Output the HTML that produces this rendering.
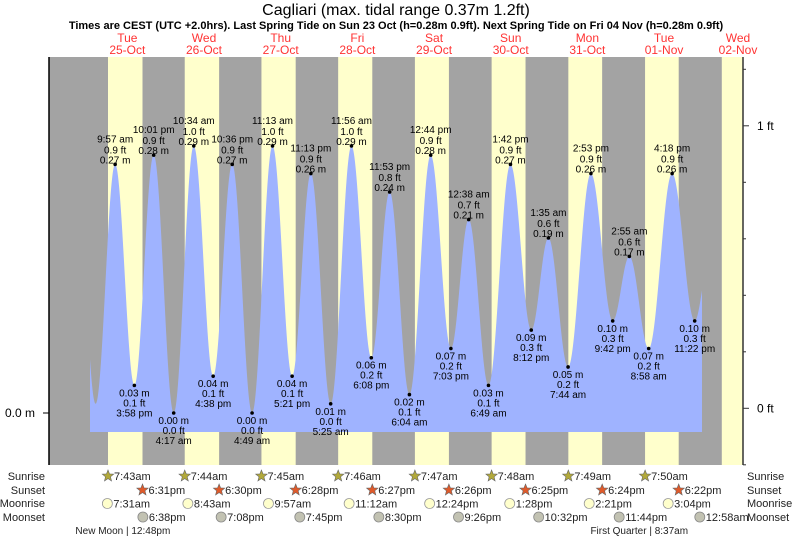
<!DOCTYPE html>
<html><head><meta charset="utf-8"><style>
html,body{margin:0;padding:0;background:#fff;width:793px;height:539px;overflow:hidden}
svg{display:block;font-family:"Liberation Sans",sans-serif}
</style></head><body>
<svg id="chart" width="793" height="539" viewBox="0 0 793 539">
<text x="396" y="15" text-anchor="middle" font-size="16" fill="#000">Cagliari (max. tidal range 0.37m 1.2ft)</text>
<text x="396" y="29" text-anchor="middle" font-size="11" font-weight="bold" fill="#000">Times are CEST (UTC +2.0hrs). Last Spring Tide on Sun 23 Oct (h=0.28m 0.9ft). Next Spring Tide on Fri 04 Nov (h=0.28m 0.9ft)</text>
<g id="bands"></g>
<g id="tide"></g>
<g id="labels"></g>
<g id="axes"></g>
<g id="astro"></g>
</svg>
<script>
const dayNames=["Tue","Wed","Thu","Fri","Sat","Sun","Mon","Tue","Wed"];
const dayDates=["25-Oct","26-Oct","27-Oct","28-Oct","29-Oct","30-Oct","31-Oct","01-Nov","02-Nov"];
const sunrise=["7:43am","7:44am","7:45am","7:46am","7:47am","7:48am","7:49am","7:50am","7:51am"];
const sunset=["6:31pm","6:30pm","6:28pm","6:27pm","6:26pm","6:25pm","6:24pm","6:22pm"];
const moonriseDay=[0,1,2,3,4,5,6,7];
const moonrise=["7:31am","8:43am","9:57am","11:12am","12:24pm","1:28pm","2:21pm","3:04pm"];
const moonsetDay=[0,1,2,3,4,5,6,8];
const moonset=["6:38pm","7:08pm","7:45pm","8:30pm","9:26pm","10:32pm","11:44pm","12:58am"];
const phaseDay=[0,7];
const phaseTime=["12:48pm","8:37am"];
const phaseName=["New Moon","First Quarter"];
const tideDay=[-1,0,0,0,0,1,1,1,1,2,2,2,2,3,3,3,3,4,4,4,5,5,5,5,6,6,6,6,7,7,7,7,8];
const tideTime=["9:40pm","3:50am","9:57am","3:58pm","10:01pm","4:17am","10:34am","4:38pm","10:36pm","4:49am","11:13am","5:21pm","11:13pm","5:25am","11:56am","6:08pm","11:53pm","6:04am","12:44pm","7:03pm","12:38am","6:49am","1:42pm","8:12pm","1:35am","7:44am","2:53pm","9:42pm","2:55am","8:58am","4:18pm","11:22pm","3:40am"];
const tideM=[0.27,0.01,0.27,0.03,0.28,0.00,0.29,0.04,0.27,0.00,0.29,0.04,0.26,0.01,0.29,0.06,0.24,0.02,0.28,0.07,0.21,0.03,0.27,0.09,0.19,0.05,0.26,0.10,0.17,0.07,0.26,0.10,0.16];
const tideFt=["","","0.9","0.1","0.9","0.0","1.0","0.1","0.9","0.0","1.0","0.1","0.9","0.0","1.0","0.2","0.8","0.1","0.9","0.2","0.7","0.1","0.9","0.3","0.6","0.2","0.9","0.3","0.6","0.2","0.9","0.3",""];
const tideShow=[0,0,1,1,1,1,1,1,1,1,1,1,1,1,1,1,1,1,1,1,1,1,1,1,1,1,1,1,1,1,1,1,0];
</script>
<script>
const NS="http://www.w3.org/2000/svg";
const X0=83.35, PXH=76.67/24, Y0=413, PXM=921;
const TOP=57, BOT=465, LEFT=49, RIGHT=743;
function hrs(t){const m=t.match(/(\d+):(\d+)(am|pm)/);let h=+m[1]%12;if(m[3]=="pm")h+=12;return h+ +m[2]/60;}
function xOf(d,t){return X0+d*76.67+hrs(t)*PXH;}
function yOf(v){return Y0-v*PXM;}
function mk(tag,attrs,parent,txt){const e=document.createElementNS(NS,tag);for(const k in attrs)e.setAttribute(k,attrs[k]);if(txt!==undefined)e.textContent=txt;parent.appendChild(e);return e;}
const bands=document.getElementById('bands'),tide=document.getElementById('tide'),labels=document.getElementById('labels'),axes=document.getElementById('axes'),astro=document.getElementById('astro');
let r=mk('rect',{x:LEFT,y:TOP,width:RIGHT-LEFT,height:BOT-TOP,fill:'#a3a3a3'},bands);


for(let i=0;i<dayNames.length;i++){
  const a=xOf(i,sunrise[i]);const b=i<sunset.length?xOf(i,sunset[i]):RIGHT;
  const rr=mk('rect',{x:a,y:TOP,width:Math.min(b,RIGHT)-a,height:BOT-TOP,fill:'#ffffcc'},bands);
  
  
  const cx=Math.min(X0+i*76.67+44,738);
  const t1=mk('text',{x:cx,y:42,'text-anchor':'middle','font-size':12,fill:'#ff3333'},bands,dayNames[i]);
  
  
  const t2=mk('text',{x:cx,y:54,'text-anchor':'middle','font-size':12,fill:'#ff3333'},bands,dayDates[i]);
  
  
}
const ex=tideM.map((v,i)=>({x:xOf(tideDay[i],tideTime[i]),v}));
function val(x){for(let i=0;i<ex.length-1;i++){if(x>=ex[i].x&&x<=ex[i+1].x){const f=(x-ex[i].x)/(ex[i+1].x-ex[i].x);return ex[i].v+(ex[i+1].v-ex[i].v)*(1-Math.cos(Math.PI*f))/2;}}return ex[ex.length-1].v;}
const xs=90,xe=702;let d=`M${xs},432`;
for(let x=xs;x<=xe;x+=0.5)d+=` L${x},${yOf(val(x)).toFixed(1)}`;
d+=` L${xe},432 Z`;
const p=mk('path',{d,fill:'#9fb3ff'},tide);


for(let i=0;i<ex.length;i++){if(!tideShow[i])continue;
  const x=ex[i].x,y=yOf(ex[i].v);const high=(i>0&&ex[i].v>ex[i-1].v);
  const c=mk('circle',{cx:x,cy:y,r:1.8,fill:'#000'},labels);
  
  
  const tt=tideTime[i].replace(/(am|pm)/,' $1');
  const lines=high?[[tt,-22],[tideFt[i]+' ft',-11],[tideM[i].toFixed(2)+' m',-1]]:[[tideM[i].toFixed(2)+' m',11],[tideFt[i]+' ft',21],[tt,31]];
  for(const [s,o] of lines){const t=mk('text',{x,y:y+o,'text-anchor':'middle','font-size':10,fill:'#000'},labels,s);
    
    }
}
let l=mk('line',{x1:LEFT,y1:TOP,x2:LEFT,y2:BOT,stroke:'#000','stroke-width':1.5},axes);


mk('line',{x1:43,y1:413,x2:LEFT,y2:413,stroke:'#000'},axes);
let tl=mk('text',{x:35,y:417,'text-anchor':'end','font-size':12},axes,'0.0 m');


l=mk('line',{x1:RIGHT,y1:TOP,x2:RIGHT,y2:BOT,stroke:'#333','stroke-width':1.5},axes);


for(let k=-1;k<=6;k++){const y=408.3-k*56.5;if(y<TOP)break;mk('line',{x1:RIGHT,y1:y,x2:RIGHT+(k%5==0?6:3),y2:y,stroke:'#333'},axes);}
for(const [s,y] of [['0 ft',412.5],['1 ft',130]]){const t=mk('text',{x:757,y,'font-size':12},axes,s);
  
  }
const rows=[['Sunrise',480],['Sunset',494],['Moonrise',507],['Moonset',521]];
for(const [s,y] of rows){
  let t=mk('text',{x:45,y,'text-anchor':'end','font-size':11,fill:'#222'},astro,s);
  
  
  t=mk('text',{x:747,y,'font-size':11,fill:'#222'},astro,s);
  
  
}
function star(cx,cy,fill){let s='';for(let k=0;k<10;k++){const rr=k%2?2.6:6;const a=-Math.PI/2+k*Math.PI/5;s+=(cx+rr*Math.cos(a)).toFixed(1)+','+(cy+rr*Math.sin(a)).toFixed(1)+' ';}return mk('polygon',{points:s,fill,stroke:'#666','stroke-width':0.6},astro);}
for(let i=0;i<8;i++){
  let x=xOf(i,sunrise[i]);let s=star(x,476,'#b2a93a');
  
  
  let t=mk('text',{x:x+6,y:480,'font-size':11,fill:'#222'},astro,sunrise[i]);
  
  
  x=xOf(i,sunset[i]);s=star(x,490,'#e05a2a');
  
  
  t=mk('text',{x:x+6,y:494,'font-size':11,fill:'#222'},astro,sunset[i]);
  
  
  x=xOf(moonriseDay[i],moonrise[i]);let c=mk('circle',{cx:x,cy:503.5,r:5,fill:'#ffffcc',stroke:'#999','stroke-width':0.8},astro);
  
  
  t=mk('text',{x:x+6,y:507.5,'font-size':11,fill:'#222'},astro,moonrise[i]);
  
  
  x=xOf(moonsetDay[i],moonset[i]);c=mk('circle',{cx:x,cy:517,r:5,fill:'#c2c2b2',stroke:'#888','stroke-width':0.8},astro);
  
  
  t=mk('text',{x:x+6,y:521,'font-size':11,fill:'#222'},astro,moonset[i]);
  
  
}
for(let i=0;i<phaseName.length;i++){const x=xOf(phaseDay[i],phaseTime[i]);
  const tmp=mk('text',{'font-size':10,x:-1000,y:-100},astro,phaseName[i]+' ');const pre=tmp.getComputedTextLength();tmp.remove();
  const t=mk('text',{x:x-pre-1,y:534,'font-size':10,fill:'#222'},astro,phaseName[i]+' | '+phaseTime[i]);
  
  
}
</script>
</body></html>
